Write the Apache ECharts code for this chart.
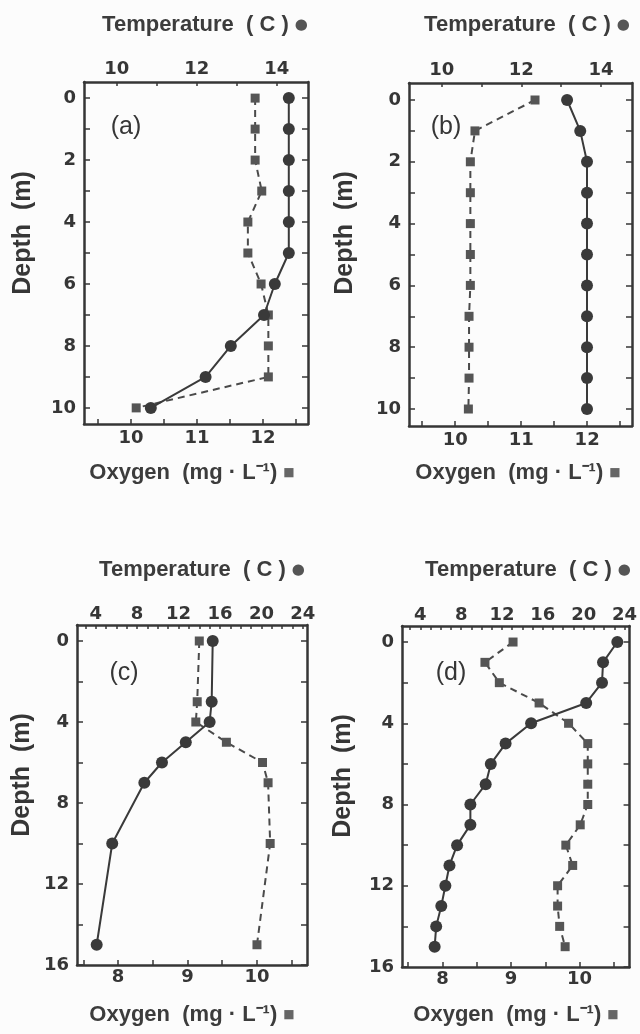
<!DOCTYPE html>
<html>
<head>
<meta charset="utf-8">
<script src="https://cdn.jsdelivr.net/npm/echarts@6/dist/echarts.min.js"></script>
<style>
  html, body { margin: 0; padding: 0; background: #fcfcfc; }
  #chart { width: 640px; height: 1034px; }
</style>
</head>
<body>
<div id="chart"></div>
<script>
// depth profiles
const depthA = [0, 1, 2, 3, 4, 5, 6, 7, 8, 9, 10];
const tempA = [14.3, 14.3, 14.3, 14.3, 14.3, 14.3, 13.95, 13.68, 12.85, 12.22, 10.85];
const oxyA = [11.88, 11.88, 11.88, 11.98, 11.77, 11.77, 11.97, 12.08, 12.08, 12.08, 10.08];

const depthB = [0, 1, 2, 3, 4, 5, 6, 7, 8, 9, 10];
const tempB = [13.15, 13.48, 13.65, 13.65, 13.65, 13.65, 13.65, 13.65, 13.65, 13.65, 13.65];
const oxyB = [11.21, 10.3, 10.23, 10.23, 10.23, 10.23, 10.23, 10.21, 10.21, 10.21, 10.2];

const depthC = [0, 3, 4, 5, 6, 7, 10, 15];
const tempC = [15.3, 15.2, 15.0, 12.7, 10.4, 8.7, 5.6, 4.1];
const oxyC = [9.17, 9.14, 9.12, 9.56, 10.08, 10.16, 10.19, 10.0];

const depthD = [0, 1, 2, 3, 4, 5, 6, 7, 8, 9, 10, 11, 12, 13, 14, 15];
const tempD = [23.3, 21.9, 21.8, 20.25, 14.85, 12.35, 10.9, 10.4, 8.9, 8.9, 7.6, 6.85, 6.45, 6.05, 5.55, 5.4];
const oxyD = [9.03, 8.62, 8.83, 9.41, 9.84, 10.12, 10.12, 10.12, 10.12, 10.01, 9.8, 9.9, 9.68, 9.68, 9.71, 9.79];

// tick labels / tick marks
const depthLabelsAB = [0, 2, 4, 6, 8, 10];
const depthTicksAB = [0, 1, 2, 3, 4, 5, 6, 7, 8, 9, 10];
const depthLabelsCD = [0, 4, 8, 12, 16];
const depthTicksCD = [0, 2, 4, 6, 8, 10, 12, 14, 16];
const oxyLabelsAB = [10, 11, 12];
const oxyTicksAB = [9.5, 10, 10.5, 11, 11.5, 12, 12.5];
const tempLabelsAB = [10, 12, 14];
const tempTicksAB = [10, 11, 12, 13, 14];
const oxyLabelsCD = [8, 9, 10];
const oxyTicksCD = [7.5, 8, 8.5, 9, 9.5, 10, 10.5];
const tempLabelsCD = [4, 8, 12, 16, 20, 24];
const tempTicksCD = [3, 4, 5, 6, 7, 8, 9, 10, 11, 12, 13, 14, 15, 16, 17, 18, 19, 20, 21, 22, 23, 24];

const ink = "#363636";
const tickFont = { color: ink, fontFamily: "DejaVu Sans", fontWeight: "bold", fontSize: 18 };
const titleFont = "Liberation Sans";

const panels = [
  {
    grid: { left: 84, top: 82, width: 224, height: 342 },
    depth: depthA, temp: tempA, oxy: oxyA,
    yRange: [-0.52, 10.52], oxyRange: [9.29, 12.68], tempRange: [9.18, 14.78],
    depthLabels: depthLabelsAB, depthTicks: depthTicksAB,
    oxyLabels: oxyLabelsAB, oxyTicks: oxyTicksAB,
    tempLabels: tempLabelsAB, tempTicks: tempTicksAB,
    topMargin: 4, bottomMargin: 5
  },
  {
    grid: { left: 409, top: 83, width: 223, height: 343 },
    depth: depthB, temp: tempB, oxy: oxyB,
    yRange: [-0.55, 10.55], oxyRange: [9.3, 12.68], tempRange: [9.18, 14.78],
    depthLabels: depthLabelsAB, depthTicks: depthTicksAB,
    oxyLabels: oxyLabelsAB, oxyTicks: oxyTicksAB,
    tempLabels: tempLabelsAB, tempTicks: tempTicksAB,
    topMargin: 4, bottomMargin: 5
  },
  {
    grid: { left: 77, top: 625, width: 230, height: 340 },
    depth: depthC, temp: tempC, oxy: oxyC,
    yRange: [-0.79, 16], oxyRange: [7.41, 10.72], tempRange: [2.2, 24.4],
    depthLabels: depthLabelsCD, depthTicks: depthTicksCD,
    oxyLabels: oxyLabelsCD, oxyTicks: oxyTicksCD,
    tempLabels: tempLabelsCD, tempTicks: tempTicksCD,
    topMargin: 2, bottomMargin: 3
  },
  {
    grid: { left: 402, top: 626, width: 231, height: 341 },
    depth: depthD, temp: tempD, oxy: oxyD,
    yRange: [-0.79, 16], oxyRange: [7.41, 10.73], tempRange: [2.2, 24.5],
    depthLabels: depthLabelsCD, depthTicks: depthTicksCD,
    oxyLabels: oxyLabelsCD, oxyTicks: oxyTicksCD,
    tempLabels: tempLabelsCD, tempTicks: tempTicksCD,
    topMargin: 2, bottomMargin: 3
  }
];

function axisLine() {
  return { show: true, onZero: false, lineStyle: { color: ink, width: 2.5 } };
}

function ticks(values, len) {
  return { show: true, inside: true, length: len, customValues: values, lineStyle: { color: ink, width: 1.5 } };
}

const grids = [];
const xAxes = [];
const yAxes = [];
const series = [];

panels.forEach((p, i) => {
  grids.push(Object.assign({ containLabel: false }, p.grid));

  // bottom: oxygen
  xAxes.push({
    type: "value", gridIndex: i, position: "bottom",
    min: p.oxyRange[0], max: p.oxyRange[1],
    axisLine: axisLine(), axisTick: ticks(p.oxyTicks, 5),
    splitLine: { show: false },
    axisLabel: Object.assign({ customValues: p.oxyLabels, margin: p.bottomMargin }, tickFont)
  });
  // top: temperature
  xAxes.push({
    type: "value", gridIndex: i, position: "top",
    min: p.tempRange[0], max: p.tempRange[1],
    axisLine: axisLine(), axisTick: ticks(p.tempTicks, 4),
    splitLine: { show: false },
    axisLabel: Object.assign({ customValues: p.tempLabels, margin: p.topMargin }, tickFont)
  });
  // left: depth
  yAxes.push({
    type: "value", gridIndex: i, position: "left", inverse: true,
    min: p.yRange[0], max: p.yRange[1],
    axisLine: axisLine(), axisTick: ticks(p.depthTicks, 6),
    splitLine: { show: false },
    axisLabel: Object.assign({ customValues: p.depthLabels, margin: 8 }, tickFont)
  });
  // right: depth ticks only
  yAxes.push({
    type: "value", gridIndex: i, position: "right", inverse: true,
    min: p.yRange[0], max: p.yRange[1],
    axisLine: axisLine(), axisTick: ticks(p.depthTicks, 6),
    splitLine: { show: false },
    axisLabel: { show: false }
  });

  series.push({
    name: "Temperature " + i,
    type: "line",
    xAxisIndex: 2 * i + 1, yAxisIndex: 2 * i,
    data: p.temp.map((t, k) => [t, p.depth[k]]),
    symbol: "circle", symbolSize: 12,
    itemStyle: { color: "#3a3a3a" },
    lineStyle: { color: "#3a3a3a", width: 2 },
    z: 3
  });
  series.push({
    name: "Oxygen " + i,
    type: "line",
    xAxisIndex: 2 * i, yAxisIndex: 2 * i,
    data: p.oxy.map((o, k) => [o, p.depth[k]]),
    symbol: "rect", symbolSize: 9,
    itemStyle: { color: "#555" },
    lineStyle: { color: "#4a4a4a", width: 2, type: [7, 5] },
    z: 2
  });
});

function label(x, y, text, extra) {
  return {
    type: "text", x: x, y: y, rotation: (extra && extra.rotation) || 0,
    style: Object.assign({
      text: text, fill: ink, fontFamily: titleFont, fontSize: 22,
      align: "center", verticalAlign: "middle",
      textAlign: "center", textVerticalAlign: "middle"
    }, (extra && extra.style) || {})
  };
}

const richTitle = {
  t: { fontFamily: titleFont, fontSize: 22, fontWeight: "bold", fill: "#3c3c3c", color: "#3c3c3c" },
  d: { fontFamily: "DejaVu Sans", fontSize: 15, fill: "#555", color: "#555" },
  s: { fontFamily: "DejaVu Sans", fontSize: 12, fill: "#666", color: "#666" }
};

const tempTitle = "{t|Temperature  ( C )} {d|●}";
const oxyTitle = "{t|Oxygen  (mg · L⁻¹)} {s|■}";

const graphics = [
  label(205, 25, tempTitle, { style: { rich: richTitle } }),
  label(527, 25, tempTitle, { style: { rich: richTitle } }),
  label(202, 570, tempTitle, { style: { rich: richTitle } }),
  label(528, 570, tempTitle, { style: { rich: richTitle } }),
  label(192, 473, oxyTitle, { style: { rich: richTitle } }),
  label(518, 473, oxyTitle, { style: { rich: richTitle } }),
  label(192, 1015, oxyTitle, { style: { rich: richTitle } }),
  label(516, 1015, oxyTitle, { style: { rich: richTitle } }),
  label(23, 233, "Depth  (m)", { rotation: Math.PI / 2, style: { fontWeight: "bold", fontSize: 25 } }),
  label(345, 233, "Depth  (m)", { rotation: Math.PI / 2, style: { fontWeight: "bold", fontSize: 25 } }),
  label(22, 775, "Depth  (m)", { rotation: Math.PI / 2, style: { fontWeight: "bold", fontSize: 25 } }),
  label(343, 776, "Depth  (m)", { rotation: Math.PI / 2, style: { fontWeight: "bold", fontSize: 25 } }),
  label(126, 127, "(a)", { style: { fontSize: 25 } }),
  label(446, 127, "(b)", { style: { fontSize: 25 } }),
  label(124, 673, "(c)", { style: { fontSize: 25 } }),
  label(451, 673, "(d)", { style: { fontSize: 25 } })
];

const chart = echarts.init(document.getElementById("chart"), null, { renderer: "canvas" });
chart.setOption({
  backgroundColor: "#fcfcfc",
  animation: false,
  grid: grids,
  xAxis: xAxes,
  yAxis: yAxes,
  series: series,
  graphic: graphics
});
</script>
</body>
</html>
